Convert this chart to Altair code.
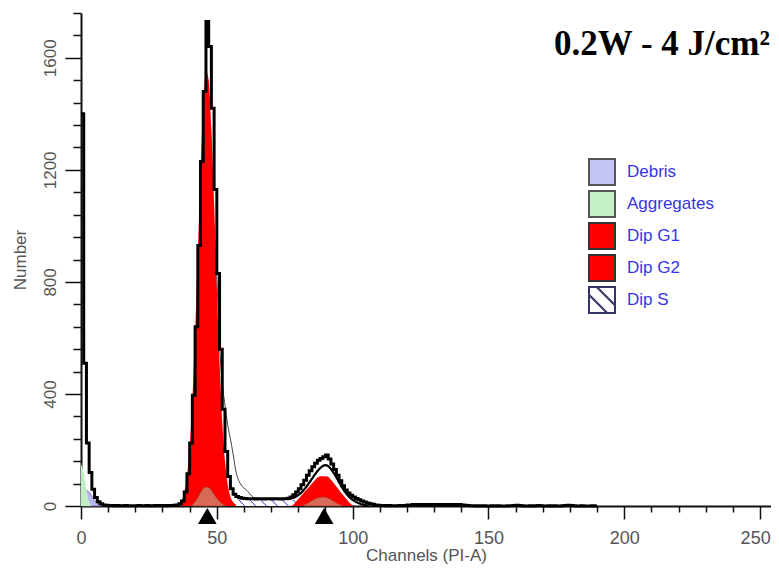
import altair as alt
import pandas as pd

# ---------------- data ----------------
# measured histogram (counts per channel), channels 0..190
data_counts = [
    1400, 510, 225, 120, 60, 30, 15, 8, 4, 3,
    2, 2, 1, 2, 1, 1, 2, 1, 1, 1,
    1, 2, 1, 1, 2, 1, 1, 2, 1, 2,
    2, 1, 2, 2, 3, 4,
    8, 18, 50, 115, 225, 395, 640, 930, 1230, 1480,
    1730, 1640, 1420, 1130, 830, 560, 345, 195, 105, 62,
    42, 34, 30, 28, 27, 26, 26, 26, 25, 26,
    26, 25, 26, 26, 25, 26, 26, 25, 26, 26,
    28, 32, 40, 50, 62, 76, 92, 110, 126, 140,
    153, 163, 170, 176, 182, 168, 150, 130, 110, 90,
    72, 57, 46, 38, 32, 27, 22, 18, 14, 11,
    8, 6, 4, 3, 2, 2, 1, 2, 1, 1,
    1, 2, 1, 2, 4, 4, 5, 5, 4, 5,
    5, 4, 5, 5, 4, 5, 5, 4, 5, 5,
    4, 5, 4, 5, 4, 3, 2, 1, 1, 0,
    1, 0, 1, 0, 0, 1, 0, 1, 0, 0,
    0, 1, 1, 2, 3, 2, 1, 0, 0, 1,
    0, 1, 2, 1, 0, 0, 1, 0, 1, 0,
    0, 1, 2, 3, 2, 1, 0, 0, 1, 0,
    0, 0, 1, 0, 0,
]

# thin overlay trace (right shoulder of G1), channels 50..66
thin_start = 50
thin_counts = [830, 580, 440, 360, 290, 240, 185, 125, 92, 75, 64, 56, 45, 34, 29, 27, 26]
# thin overlay trace (right shoulder of G2), channels 94..108
thin2_start = 94
thin2_counts = [112, 94, 78, 64, 52, 44, 37, 30, 25, 20, 16, 12, 9, 6, 4]

# model sum around G2, channels 74..106
model_start = 74
model_counts = [25, 25, 26, 27, 29, 33, 39, 47, 57, 69, 83, 97, 111, 124, 135, 143, 146,
                142, 132, 118, 102, 85, 68, 53, 40, 30, 22, 16, 11, 7, 4, 2, 1]

# Dip G1 component, channels 37..57
g1_start = 37
g1_counts = [15, 48, 106, 211, 379, 614, 901, 1195, 1433, 1553, 1522, 1348, 1081, 784,
             514, 302, 162, 78, 34, 14, 5]

# Dip G2 component, channels 77..101
g2_start = 77
g2_counts = [0, 3, 14, 25, 36, 47, 58, 69, 80, 91, 102, 106, 106, 106, 104, 94, 82, 70,
             57, 45, 33, 21, 10, 2, 0]

# Dip S component, channels 44..92
s_start = 44
s_counts = [2, 5, 8, 11, 14, 16, 18, 20, 21, 22, 23, 23, 23, 23, 23, 23, 23, 23, 23, 23,
            23, 23, 23, 23, 23, 23, 23, 23, 23, 23, 23, 23, 23, 23, 23, 23, 22, 21, 19, 17,
            14, 12, 9, 7, 5, 3, 2, 1, 0]

# small components under the peaks, channels 41..53 and 82..96
b1_start = 41
b1_counts = [5, 15, 30, 48, 62, 68, 66, 56, 42, 28, 16, 8, 3]
b2_start = 82
b2_counts = [4, 8, 13, 19, 25, 29, 31, 32, 31, 28, 23, 17, 11, 6, 3]

# debris and aggregates, channels 0..9
debris_counts = [0, 40, 55, 50, 35, 20, 10, 5, 2, 0]
aggr_counts = [150, 120, 60, 15, 0]

# peak markers (channel means)
peak_channels = [46.5, 89.5]

legend_names = ["Debris", "Aggregates", "Dip G1", "Dip G2", "Dip S"]
legend_fills = ["#c4c4f4", "#c4f2c6", "#ff0000", "#ff0000", "#ffffff"]
legend_strokes = ["#555555", "#555555", "#333333", "#333333", "#333366"]
square_path = "M-1,-1H1V1H-1Z"
hatch_path = "M-1,-1H1V1H-1Z M-1,-0.4L0.4,1 M-0.4,-1L1,0.4"
legend_shapes = [square_path, square_path, square_path, square_path, hatch_path]

title_text = ["0.2W - 4 J/cm²"]

x_ticks = list(range(0, 251, 10))
y_ticks = list(range(0, 1761, 80))


def frame(start, vals):
    return pd.DataFrame({"ch": list(range(start, start + len(vals))), "v": vals})


df_data = frame(0, data_counts)
df_thin = frame(thin_start, thin_counts)
df_thin2 = frame(thin2_start, thin2_counts)
df_model = frame(model_start, model_counts)
df_g1 = frame(g1_start, g1_counts)
df_g2 = frame(g2_start, g2_counts)
df_s = frame(s_start, s_counts)
df_b1 = frame(b1_start, b1_counts)
df_b2 = frame(b2_start, b2_counts)
df_deb = frame(0, debris_counts)
df_agg = frame(0, aggr_counts)
df_peaks = pd.DataFrame({"ch": peak_channels, "v": [0] * len(peak_channels)})
df_title = pd.DataFrame({"t": title_text})

# hatch segments for the S phase region (derived from the S values)
hatch_rows = []
for i in range(2, len(s_counts) - 3, 4):
    c = s_start + i
    hatch_rows.append({"ch": c, "v": s_counts[i], "ch2": c + 2.3, "v2": 0})
df_hatch = pd.DataFrame(hatch_rows)

df_legend = pd.DataFrame({"component": legend_names, "ch": [0] * 5, "v": [0] * 5})

# ---------------- scales / axes ----------------
xscale = alt.Scale(domain=[0, 254], nice=False, zero=False)
yscale = alt.Scale(domain=[0, 1760], nice=False)

xaxis = alt.Axis(
    values=x_ticks,
    labelExpr="datum.value % 50 == 0 ? datum.label : ''",
    tickSize={"condition": {"test": "datum.value % 50 === 0", "value": 13}, "value": 6},
    labelOffset={"condition": {"test": "datum.value === 250", "value": -5}, "value": 0},
    tickColor="#111", tickWidth=1.5,
    domainColor="#111", domainWidth=2,
    labelFont="Liberation Sans", labelFontSize=18, labelColor="#555",
    labelPadding=10, labelFlush=False,
    title="Channels (PI-A)", titleFont="Liberation Sans", titleFontSize=17,
    titleFontWeight="normal", titleColor="#555", titlePadding=0,
    grid=False,
)
yaxis = alt.Axis(
    values=y_ticks, format="d",
    labelExpr="datum.value % 400 == 0 ? datum.label : ''",
    tickSize={"condition": {"test": "datum.value % 400 === 0", "value": 16}, "value": 8},
    tickColor="#111", tickWidth=1.5,
    domainColor="#111", domainWidth=2,
    labelFont="Liberation Sans Narrow, Liberation Sans", labelFontSize=17, labelColor="#555",
    labelAngle=270, labelPadding=6,
    title="Number", titleFont="Liberation Sans", titleFontSize=17,
    titleFontWeight="normal", titleColor="#555", titlePadding=12,
    grid=False,
)

X = alt.X("ch:Q", scale=xscale, axis=xaxis)
Y = alt.Y("v:Q", scale=yscale, axis=yaxis)

debris = alt.Chart(df_deb).mark_area(color="#b8b8ee", interpolate="monotone",
                                     stroke="#7070b0", strokeWidth=0.8).encode(x=X, y=Y)
aggr = alt.Chart(df_agg).mark_area(color="#bfeec4", interpolate="monotone").encode(x=X, y=Y)

s_area = alt.Chart(df_s).mark_area(color="#ffffff", interpolate="monotone").encode(x=X, y=Y)
hatch = alt.Chart(df_hatch).mark_rule(color="#2a2ad8", strokeWidth=1).encode(
    x=X, y=Y, x2="ch2:Q", y2="v2:Q")

g1 = alt.Chart(df_g1).mark_area(color="#ff0000", interpolate="monotone").encode(x=X, y=Y)
g2 = alt.Chart(df_g2).mark_area(color="#ff0000", interpolate="linear").encode(x=X, y=Y)
b1 = alt.Chart(df_b1).mark_area(color="#d86a58", interpolate="monotone",
                                stroke="#9a3a2a", strokeWidth=0.6).encode(x=X, y=Y)
b2 = alt.Chart(df_b2).mark_area(color="#d86a58", interpolate="monotone",
                                stroke="#9a3a2a", strokeWidth=0.6).encode(x=X, y=Y)

model = alt.Chart(df_model).mark_line(color="#000", strokeWidth=2.2,
                                      interpolate="monotone").encode(x=X, y=Y)
thin = alt.Chart(df_thin).mark_line(color="#444", strokeWidth=1,
                                    interpolate="monotone").encode(x=X, y=Y)
thin2 = alt.Chart(df_thin2).mark_line(color="#444", strokeWidth=1,
                                      interpolate="monotone").encode(x=X, y=Y)
data_line = alt.Chart(df_data).mark_line(color="#000", strokeWidth=3,
                                         interpolate="step-after").encode(x=X, y=Y)

peaks = alt.Chart(df_peaks).mark_point(shape="triangle-up", filled=True, size=350,
                                       color="#000", opacity=1, yOffset=10).encode(x=X, y=Y)

title_mark = alt.Chart(df_title).mark_text(
    font="Liberation Serif", fontSize=35, fontWeight="bold", color="#000",
    align="right", baseline="alphabetic",
).encode(text="t:N", x=alt.value(689), y=alt.value(42))

legend_def = alt.Legend(
    title=None, orient="none", legendX=507, legendY=145,
    padding=0, symbolSize=676, symbolStrokeWidth=2, symbolOpacity=1,
    labelColor="#3535e8", labelFont="Liberation Sans",
    labelFontSize=17, labelOffset=11, rowPadding=-2,
)

legend_layer = alt.Chart(df_legend).transform_filter("datum.v > 1").mark_point(
    filled=True, opacity=1, strokeWidth=2).encode(
    x=X, y=Y,
    fill=alt.Fill("component:N",
                  scale=alt.Scale(domain=legend_names, range=legend_fills),
                  legend=legend_def),
    shape=alt.Shape("component:N",
                    scale=alt.Scale(domain=legend_names, range=legend_shapes),
                    legend=legend_def),
    stroke=alt.Stroke("component:N",
                      scale=alt.Scale(domain=legend_names, range=legend_strokes),
                      legend=legend_def),
)

chart = alt.layer(
    debris, aggr, s_area, hatch, g1, g2, b1, b2, model, thin, thin2, data_line,
    peaks, title_mark, legend_layer,
).properties(
    width=690, height=493,
    padding={"left": 73, "top": 5, "right": 0, "bottom": 58},
    autosize="none",
).configure_view(stroke=None)

chart.save("out.html", embed_options={"renderer": "svg", "actions": False})
